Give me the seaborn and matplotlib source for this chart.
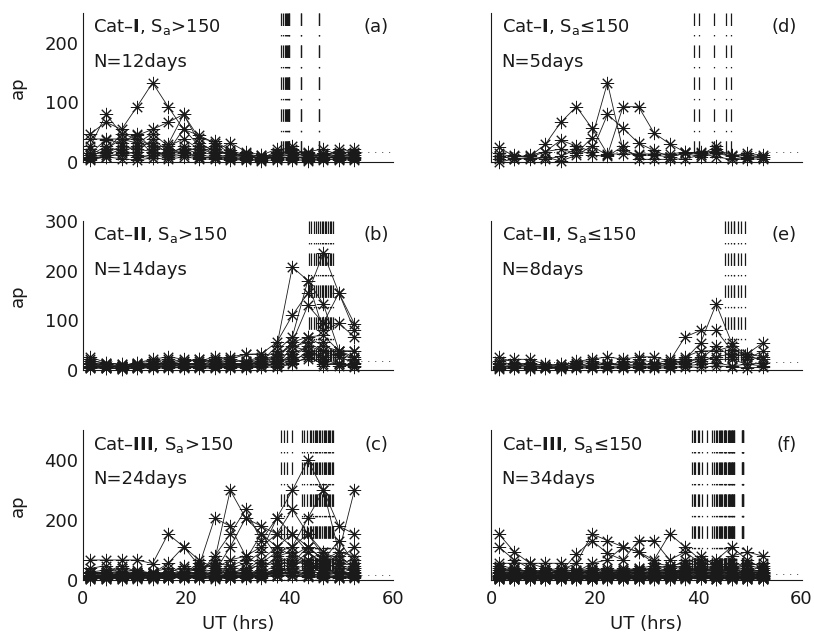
import numpy as np
import pandas as pd
import matplotlib
matplotlib.use("Agg")
import matplotlib.pyplot as plt
import seaborn as sns

# 3-hourly UT bins (hours)
ut = [1.5, 4.5, 7.5, 10.5, 13.5, 16.5, 19.5, 22.5, 25.5, 28.5, 31.5, 34.5,
      37.5, 40.5, 43.5, 46.5, 49.5, 52.5]

# ap series, one row per day
ap_a = [
    [27, 80, 48, 45, 55, 67, 80, 40, 35, 20, 12, 7, 15, 18, 7, 12, 9, 12],
    [48, 67, 55, 93, 133, 93, 55, 45, 32, 15, 9, 12, 9, 22, 15, 9, 22, 18],
    [15, 38, 32, 48, 22, 30, 80, 33, 18, 33, 18, 12, 22, 15, 12, 12, 18, 15],
    [12, 18, 48, 39, 27, 18, 56, 27, 22, 12, 15, 9, 7, 9, 9, 7, 9, 7],
    [9, 22, 39, 32, 48, 27, 39, 22, 15, 18, 7, 9, 12, 12, 15, 9, 7, 9],
    [7, 15, 27, 22, 18, 12, 27, 18, 12, 9, 9, 7, 9, 7, 9, 12, 15, 12],
    [5, 12, 22, 12, 7, 22, 15, 12, 9, 12, 12, 6, 9, 12, 4, 7, 12, 9],
    [12, 27, 18, 27, 33, 15, 18, 7, 9, 7, 6, 9, 6, 9, 7, 9, 6, 7],
    [4, 9, 15, 9, 12, 9, 12, 9, 7, 5, 5, 4, 9, 6, 5, 5, 4, 4],
    [22, 12, 12, 18, 39, 18, 22, 15, 27, 9, 9, 7, 18, 27, 9, 15, 9, 15],
    [39, 39, 39, 39, 15, 12, 15, 27, 15, 15, 12, 7, 12, 15, 18, 22, 12, 22],
    [7, 9, 6, 4, 7, 5, 9, 6, 5, 4, 4, 3, 4, 4, 3, 4, 6, 5],
]
ap_d = [
    [25, 10, 10, 30, 67, 93, 57, 14, 14, 14, 14, 14, 17, 12, 15, 10, 8, 9],
    [15, 8, 12, 18, 22, 15, 41, 133, 20, 12, 12, 9, 15, 9, 22, 12, 12, 9],
    [5, 12, 8, 18, 37, 27, 18, 80, 57, 32, 20, 9, 15, 18, 18, 10, 15, 12],
    [10, 6, 6, 9, 2, 12, 27, 12, 93, 93, 49, 31, 17, 15, 9, 5, 5, 6],
    [0, 6, 8, 5, 10, 22, 12, 10, 27, 5, 5, 5, 6, 12, 27, 5, 9, 9],
]
ap_b = [
    [12, 9, 7, 9, 12, 15, 12, 9, 12, 15, 12, 18, 48, 207, 180, 133, 39, 22],
    [22, 12, 9, 15, 22, 27, 22, 18, 27, 22, 32, 33, 56, 110, 155, 235, 155, 93],
    [7, 5, 4, 6, 7, 9, 9, 7, 9, 9, 12, 15, 27, 56, 130, 95, 155, 80],
    [15, 9, 6, 12, 9, 15, 18, 22, 15, 18, 18, 22, 39, 67, 180, 80, 94, 67],
    [9, 7, 5, 9, 15, 12, 15, 12, 18, 12, 9, 12, 22, 39, 67, 70, 39, 27],
    [5, 4, 3, 5, 6, 7, 5, 6, 7, 5, 7, 9, 15, 27, 48, 39, 27, 15],
    [18, 15, 12, 9, 12, 18, 12, 15, 12, 12, 15, 18, 32, 48, 56, 38, 38, 38],
    [12, 7, 9, 7, 9, 9, 9, 12, 9, 15, 9, 12, 18, 22, 32, 9, 15, 9],
    [6, 9, 7, 12, 7, 7, 6, 9, 6, 9, 6, 7, 12, 33, 48, 18, 9, 12],
    [9, 12, 5, 9, 12, 9, 15, 9, 12, 7, 12, 15, 9, 15, 39, 27, 33, 22],
    [4, 5, 3, 4, 5, 4, 6, 5, 4, 7, 5, 6, 7, 12, 27, 12, 12, 7],
    [15, 12, 9, 15, 18, 22, 18, 22, 18, 22, 18, 27, 22, 56, 67, 48, 39, 39],
    [7, 6, 9, 6, 9, 12, 7, 7, 9, 12, 9, 9, 12, 18, 22, 56, 27, 15],
    [27, 15, 12, 12, 15, 12, 12, 15, 22, 27, 32, 32, 9, 48, 39, 22, 12, 9],
]
ap_e = [
    [27, 15, 12, 9, 12, 15, 18, 12, 9, 22, 15, 12, 22, 55, 133, 55, 27, 22],
    [18, 22, 22, 12, 9, 18, 22, 27, 22, 27, 27, 18, 67, 80, 80, 40, 33, 55],
    [9, 7, 9, 6, 7, 12, 9, 12, 12, 9, 12, 15, 27, 39, 39, 48, 22, 39],
    [12, 9, 15, 9, 12, 9, 15, 9, 18, 15, 9, 12, 18, 22, 48, 27, 33, 27],
    [5, 5, 4, 6, 5, 7, 6, 7, 6, 7, 9, 9, 15, 27, 22, 22, 12, 15],
    [15, 12, 7, 7, 7, 9, 9, 15, 9, 12, 12, 22, 12, 18, 27, 33, 27, 22],
    [7, 9, 12, 5, 6, 6, 7, 6, 7, 5, 6, 7, 9, 12, 15, 9, 12, 9],
    [3, 4, 3, 4, 3, 4, 5, 4, 5, 6, 4, 5, 7, 6, 9, 7, 5, 6],
]
ap_c = [
    [67, 67, 67, 67, 55, 154, 111, 67, 39, 27, 22, 27, 48, 67, 48, 33, 22, 39],
    [22, 27, 48, 27, 22, 56, 111, 48, 207, 180, 80, 111, 154, 236, 154, 94, 67, 111],
    [15, 12, 22, 15, 18, 22, 48, 27, 67, 300, 207, 154, 111, 154, 94, 56, 80, 39],
    [9, 15, 12, 18, 15, 9, 27, 22, 80, 154, 236, 132, 207, 300, 400, 300, 94, 300],
    [27, 22, 15, 12, 9, 15, 18, 15, 27, 111, 207, 180, 154, 111, 207, 300, 180, 154],
    [12, 9, 7, 9, 12, 22, 15, 12, 15, 39, 56, 94, 207, 154, 111, 67, 132, 56],
    [7, 9, 12, 18, 22, 18, 12, 9, 12, 15, 27, 56, 94, 111, 154, 80, 48, 27],
    [18, 27, 39, 27, 22, 15, 22, 56, 39, 67, 80, 48, 67, 48, 94, 48, 15, 22],
    [39, 48, 22, 22, 27, 39, 22, 39, 48, 27, 22, 33, 80, 94, 56, 39, 56, 67],
    [5, 7, 9, 6, 7, 9, 7, 12, 9, 7, 15, 12, 27, 22, 39, 15, 9, 12],
    [12, 15, 22, 27, 18, 12, 15, 27, 22, 18, 12, 18, 39, 56, 67, 27, 22, 15],
    [22, 18, 12, 9, 7, 12, 9, 15, 12, 22, 18, 22, 15, 39, 27, 56, 39, 33],
    [9, 5, 4, 7, 9, 7, 12, 22, 18, 12, 9, 15, 12, 18, 15, 22, 12, 9],
    [15, 12, 15, 22, 12, 15, 9, 18, 22, 27, 33, 67, 111, 80, 56, 39, 27, 18],
    [27, 33, 27, 15, 18, 27, 18, 22, 15, 9, 12, 27, 22, 27, 33, 18, 22, 27],
    [4, 5, 7, 5, 4, 6, 9, 7, 5, 7, 9, 6, 18, 15, 9, 12, 7, 9],
    [18, 12, 9, 12, 15, 18, 22, 27, 33, 22, 39, 48, 56, 80, 111, 67, 48, 39],
    [9, 15, 18, 12, 9, 7, 12, 9, 12, 15, 18, 22, 33, 39, 48, 33, 27, 15],
    [12, 9, 12, 15, 27, 22, 15, 12, 9, 12, 15, 9, 39, 27, 22, 15, 12, 18],
    [6, 7, 5, 9, 7, 12, 9, 6, 7, 9, 7, 12, 15, 27, 18, 9, 7, 6],
    [15, 22, 27, 33, 22, 15, 18, 12, 15, 18, 22, 15, 27, 22, 15, 18, 27, 22],
    [27, 18, 15, 12, 18, 22, 27, 39, 27, 48, 27, 22, 18, 48, 67, 94, 56, 48],
    [7, 12, 9, 7, 12, 9, 7, 9, 12, 7, 9, 18, 27, 15, 12, 7, 9, 12],
    [22, 27, 18, 22, 15, 27, 39, 33, 56, 48, 67, 154, 80, 56, 111, 67, 94, 80],
]
ap_f = [
    [154, 94, 56, 39, 27, 22, 27, 22, 18, 22, 27, 22, 33, 27, 22, 18, 15, 22],
    [111, 67, 39, 22, 33, 56, 154, 132, 111, 94, 67, 154, 111, 67, 56, 80, 94, 80],
    [48, 39, 27, 22, 27, 87, 132, 89, 67, 132, 132, 67, 94, 56, 67, 111, 67, 39],
    [39, 27, 18, 33, 39, 27, 56, 67, 111, 94, 56, 48, 56, 80, 48, 56, 48, 56],
    [27, 33, 27, 22, 18, 27, 33, 27, 22, 39, 33, 27, 39, 48, 39, 33, 27, 33],
    [22, 15, 12, 15, 22, 27, 22, 18, 27, 22, 27, 33, 27, 22, 27, 39, 22, 27],
    [9, 12, 15, 12, 9, 12, 15, 12, 9, 12, 15, 12, 18, 15, 12, 9, 12, 15],
    [15, 9, 7, 9, 12, 9, 7, 9, 15, 12, 9, 18, 22, 27, 22, 18, 15, 12],
    [6, 7, 5, 4, 6, 7, 9, 7, 6, 5, 7, 9, 7, 6, 9, 7, 5, 6],
    [33, 27, 22, 18, 15, 18, 22, 27, 33, 27, 22, 27, 33, 39, 27, 22, 18, 15],
    [12, 18, 22, 27, 22, 18, 12, 15, 18, 22, 27, 22, 18, 22, 27, 33, 27, 22],
    [18, 12, 9, 7, 9, 12, 18, 22, 18, 15, 12, 15, 22, 18, 15, 12, 22, 18],
    [4, 5, 7, 9, 7, 5, 4, 6, 5, 7, 9, 12, 9, 7, 5, 6, 7, 5],
    [22, 27, 33, 22, 27, 22, 18, 22, 27, 33, 39, 48, 39, 33, 27, 33, 39, 27],
    [9, 7, 12, 15, 12, 9, 12, 9, 7, 9, 12, 9, 12, 15, 18, 12, 9, 7],
    [7, 9, 6, 5, 7, 9, 5, 7, 9, 6, 5, 7, 12, 9, 7, 9, 6, 7],
    [15, 12, 18, 12, 15, 18, 15, 18, 12, 15, 18, 22, 27, 22, 18, 22, 15, 18],
    [39, 33, 27, 33, 27, 33, 39, 33, 27, 33, 27, 39, 48, 56, 48, 39, 48, 39],
    [5, 4, 3, 4, 5, 4, 3, 5, 4, 3, 4, 5, 6, 7, 5, 4, 3, 4],
    [12, 15, 9, 12, 18, 22, 27, 22, 15, 18, 22, 27, 33, 27, 22, 27, 22, 18],
    [27, 22, 15, 9, 12, 15, 9, 12, 15, 12, 9, 15, 22, 18, 27, 22, 27, 33],
    [18, 22, 27, 33, 27, 22, 33, 27, 39, 33, 27, 22, 27, 33, 39, 48, 33, 27],
    [9, 12, 7, 9, 12, 15, 12, 9, 12, 15, 18, 15, 12, 15, 12, 9, 12, 9],
    [22, 18, 22, 15, 12, 9, 15, 18, 22, 27, 22, 18, 22, 27, 33, 27, 22, 15],
    [7, 5, 6, 7, 5, 6, 7, 9, 7, 6, 7, 9, 12, 9, 12, 9, 7, 9],
    [56, 56, 56, 56, 56, 27, 33, 39, 27, 33, 39, 33, 27, 33, 39, 27, 22, 27],
    [15, 22, 18, 22, 27, 22, 18, 15, 18, 22, 18, 22, 27, 39, 33, 22, 18, 22],
    [3, 4, 5, 3, 4, 5, 4, 3, 5, 4, 6, 5, 4, 6, 5, 4, 3, 5],
    [12, 9, 12, 18, 22, 18, 12, 15, 12, 9, 12, 18, 15, 12, 18, 22, 27, 22],
    [27, 18, 12, 15, 18, 12, 15, 22, 27, 22, 18, 22, 27, 22, 18, 15, 12, 15],
    [9, 7, 9, 12, 9, 7, 12, 9, 7, 12, 15, 9, 7, 9, 12, 15, 9, 12],
    [18, 15, 22, 18, 15, 22, 27, 22, 18, 22, 27, 33, 27, 48, 39, 33, 27, 48],
    [6, 9, 12, 9, 7, 9, 6, 7, 9, 12, 9, 7, 9, 12, 9, 7, 9, 6],
    [33, 39, 27, 22, 27, 33, 27, 22, 33, 39, 48, 39, 67, 56, 48, 39, 56, 48],
]

# event onset times (UT hours), one per day
onset_a = [38.3, 38.7, 39.1, 39.3, 39.5, 39.7, 39.9, 39.9, 42.1, 42.1, 45.7, 45.7]
onset_d = [39.2, 40.1, 43.0, 45.4, 46.4]
onset_b = [43.8, 44.2, 44.7, 45.0, 45.5, 45.8, 46.2, 46.5, 46.8, 47.0, 47.3,
           47.7, 48.0, 48.3]
onset_e = [45.2, 45.7, 46.4, 47.0, 47.0, 47.7, 48.3, 49.0]
onset_c = [38.3, 38.9, 39.5, 40.4, 42.3, 42.8, 43.4, 43.9, 44.2, 44.4, 44.9,
           45.1, 45.3, 45.6, 45.9, 46.3, 46.6, 46.8, 47.1, 47.3, 47.6, 47.8,
           48.1, 48.4]
onset_f = [38.8, 39.2, 39.5, 39.9, 40.2, 40.8, 41.8, 42.7, 43.1, 43.4, 43.7,
           44.0, 44.2, 44.5, 44.7, 45.0, 45.2, 45.3, 45.5, 45.7, 45.9, 46.0,
           46.2, 46.3, 46.5, 46.6, 46.8, 47.0, 47.0, 48.4, 48.4, 48.7, 48.7, 48.7]

# quiet-time reference level of ap
ref_level = [17, 19, 17, 17, 17, 19]

titles = ["Cat\u2013$\\mathbf{I}$, S$_\\mathrm{a}$>150",
          "Cat\u2013$\\mathbf{II}$, S$_\\mathrm{a}$>150",
          "Cat\u2013$\\mathbf{III}$, S$_\\mathrm{a}$>150",
          "Cat\u2013$\\mathbf{I}$, S$_\\mathrm{a}$\u2264150",
          "Cat\u2013$\\mathbf{II}$, S$_\\mathrm{a}$\u2264150",
          "Cat\u2013$\\mathbf{III}$, S$_\\mathrm{a}$\u2264150"]
ndays = ["N=12days", "N=14days", "N=24days", "N=5days", "N=8days", "N=34days"]
tags = ["(a)", "(b)", "(c)", "(d)", "(e)", "(f)"]
ytop = [250, 300, 500, 250, 300, 500]
yticks = [[0, 100, 200], [0, 100, 200, 300], [0, 200, 400],
          [0, 100, 200], [0, 100, 200, 300], [0, 200, 400]]
xticks = [0, 20, 40, 60]

series = [ap_a, ap_b, ap_c, ap_d, ap_e, ap_f]
onsets = [onset_a, onset_b, onset_c, onset_d, onset_e, onset_f]

sns.set_theme(style="white")
plt.rcParams["font.family"] = ["DejaVu Sans"]
plt.rcParams["mathtext.fontset"] = "custom"
plt.rcParams["mathtext.rm"] = "DejaVu Sans"
plt.rcParams["mathtext.it"] = "DejaVu Sans:italic"
plt.rcParams["mathtext.bf"] = "DejaVu Sans:bold"
plt.rcParams["lines.scale_dashes"] = False
plt.rcParams["text.color"] = "k"
plt.rcParams["axes.labelcolor"] = "k"
plt.rcParams["xtick.color"] = "k"
plt.rcParams["ytick.color"] = "k"

fs = 13
fig = plt.figure(figsize=(8.14, 6.35), dpi=100)
lefts = [0.1016, 0.6032]
bottoms = [0.7444, 0.4169, 0.0866]
w, h = 0.3815, 0.2355

for i in range(6):
    col, row = divmod(i, 3)
    ax = fig.add_axes([lefts[col], bottoms[row], w, h])
    df = pd.DataFrame(
        [(d, x, v) for d, vals in enumerate(series[i]) for x, v in zip(ut, vals)],
        columns=["day", "UT", "ap"])

    # onset markers
    ax.vlines(onsets[i], ymin=ytop[i], ymax=0, colors="k", lw=0.9,
              linestyles=[(0, (9, 6.5, 1, 6.5))])
    # quiet reference level
    ax.plot([0, 60], [ref_level[i], ref_level[i]], color="0.35", lw=0.7,
            ls=(0, (0.8, 4.2)))

    sns.lineplot(data=df, x="UT", y="ap", units="day", estimator=None,
                 color="k", lw=0.6, marker=(8, 2, 0), ms=9.5, mew=0.7,
                 mec="k", legend=False, clip_on=False, ax=ax)

    ax.set_xlim(0, 60)
    ax.set_ylim(0, ytop[i])
    ax.set_xticks(xticks)
    ax.set_yticks(yticks[i])
    for s in ["top", "right"]:
        ax.spines[s].set_visible(False)
    for s in ["left", "bottom"]:
        ax.spines[s].set_color("k")
        ax.spines[s].set_linewidth(0.8)
    ax.tick_params(direction="in", length=3, width=0.7, colors="k",
                   labelsize=fs, pad=3)
    ax.tick_params(axis="x", pad=7)

    if row == 2:
        ax.set_xlabel("UT (hrs)", fontsize=fs, color="k")
        ax.xaxis.set_label_coords(0.5, -0.235)
    else:
        ax.set_xlabel("")
        ax.set_xticklabels([])
    if col == 0:
        ax.set_ylabel("ap", fontsize=fs, color="k")
        ax.yaxis.set_label_coords(-0.18, 0.5)
    else:
        ax.set_ylabel("")
        ax.set_yticklabels([])

    ax.text(0.034, 0.869, titles[i], transform=ax.transAxes, ha="left",
            va="baseline", fontsize=fs, color="k")
    ax.text(0.034, 0.639, ndays[i], transform=ax.transAxes, ha="left",
            va="baseline", fontsize=fs, color="k")
    ax.text(0.985, 0.872, tags[i], transform=ax.transAxes, ha="right",
            va="baseline", fontsize=fs, color="k")

fig.savefig("out.png", dpi=100)
